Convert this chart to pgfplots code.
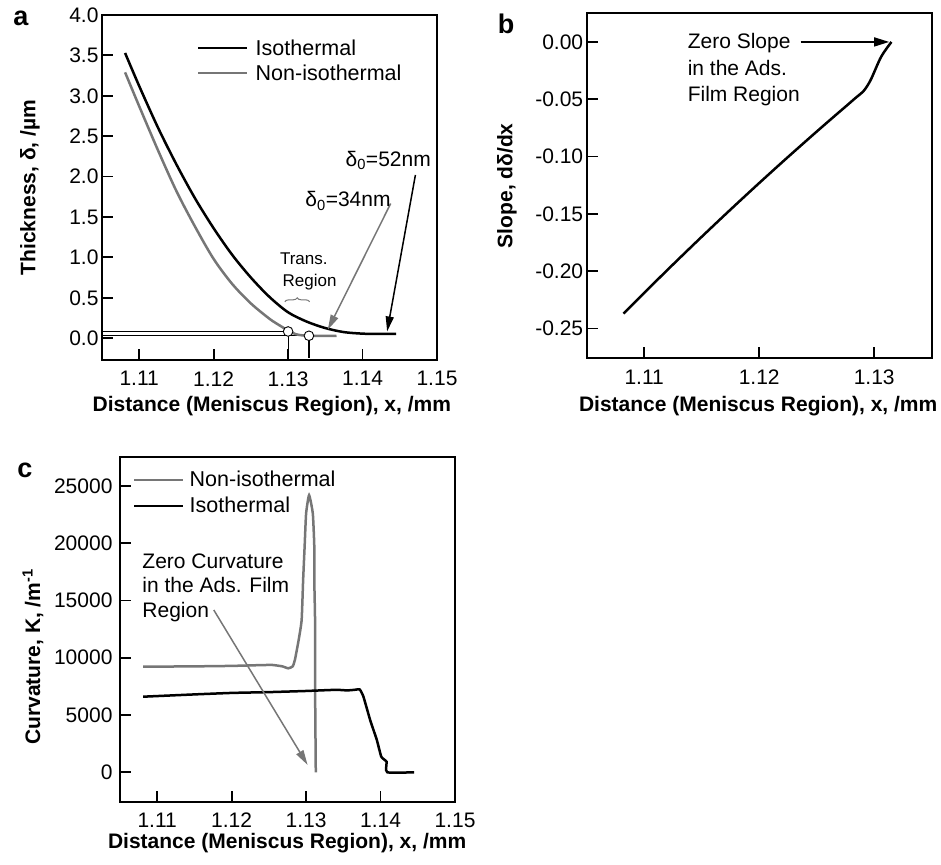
\documentclass[border=0pt]{standalone}
\usepackage{pgfplots}
\pgfplotsset{compat=1.18}
\usepackage{fontspec}
\setmainfont{Liberation Sans}
\usetikzlibrary{arrows.meta,decorations.pathreplacing}
\definecolor{cg}{RGB}{118,118,118}

\pgfplotsset{
  panel/.style={
    scale only axis, width=335pt, height=345pt,
    axis line style={line width=1.8pt},
    tick align=inside, tick pos=left,
    major tick length=11pt,
    tick style={line width=1.8pt, black},
    /pgf/number format/assume math mode=true,
    ticklabel style={font=\fontsize{21}{25}\selectfont},
    label style={font=\bfseries\fontsize{21}{25}\selectfont},
    scaled ticks=false,
    clip=false,
    xticklabel style={/pgf/number format/fixed,/pgf/number format/precision=2,/pgf/number format/fixed zerofill, yshift=-8pt},
    legend image code/.code={\draw[##1] (0pt,0pt) -- (49pt,0pt);},
  },
  every axis plot/.append style={line width=2.5pt},
}

\begin{document}
\begin{tikzpicture}
\useasboundingbox (0,0) rectangle (941pt,864pt);

% ---------------- panel a ----------------
\begin{axis}[panel, at={(102pt,504pt)}, anchor=south west,
  xmin=1.105, xmax=1.15, ymin=-0.27, ymax=4.0,
  xtick={1.11,1.12,1.13,1.14,1.15},
  ytick={0,0.5,1,1.5,2,2.5,3,3.5,4},
  yticklabel style={/pgf/number format/fixed,/pgf/number format/precision=1,/pgf/number format/fixed zerofill},
  xlabel={Distance (Meniscus Region), x, /mm},
  ylabel={Thickness, δ, /µm},
  xlabel style={at={(axis description cs:0.507,-0.135)}, anchor=center},
  ylabel style={at={(axis description cs:-0.215,0.5)}, anchor=center},
  legend style={at={(axis description cs:0.2836,0.935)}, anchor=north west, draw=none, fill=none, inner sep=0pt, row sep=4pt, column sep=5pt, font=\fontsize{21.5}{25}\selectfont, nodes={inner sep=2pt}, cells={anchor=west}},
]
% annotation lines of the transition region
\draw[line width=1.2pt] (axis cs:1.105,0.083) -- (axis cs:1.1300,0.083);
\draw[line width=1.2pt] (axis cs:1.105,0.03) -- (axis cs:1.1328,0.03);
\draw[line width=1.2pt] (axis cs:1.1300,0.083) -- (axis cs:1.1300,-0.25);
\draw[line width=1.2pt] (axis cs:1.1328,0.03) -- (axis cs:1.1328,-0.25);

\addplot[black, smooth, tension=0.5] coordinates {
(1.1081,3.53) (1.1100,3.12) (1.1125,2.61) (1.1150,2.15) (1.1175,1.73)
(1.1200,1.36) (1.1225,1.03) (1.1250,0.75) (1.1275,0.51) (1.1300,0.32)
(1.1325,0.205) (1.1350,0.125) (1.1375,0.075) (1.1400,0.056) (1.1420,0.052) (1.1445,0.052)};
\addlegendentry{Isothermal}
\addplot[cg, smooth, tension=0.5] coordinates {
(1.1081,3.29) (1.1100,2.87) (1.1125,2.33) (1.1150,1.82) (1.1175,1.38)
(1.1200,0.98) (1.1225,0.67) (1.1250,0.43) (1.1275,0.24) (1.1290,0.15)
(1.1300,0.095) (1.1310,0.05) (1.1320,0.034) (1.1330,0.03) (1.1365,0.03)};
\addlegendentry{Non-isothermal}

\addplot[forget plot, only marks, mark=*, mark size=4.8pt, mark options={fill=white, draw=black, line width=0.9pt}] coordinates {(1.1300,0.083) (1.1328,0.03)};

\draw[-{Triangle[length=15pt,width=8pt]}, line width=1.5pt] (axis cs:1.1471,2.02) -- (axis cs:1.1433,0.083);
\draw[cg, -{Triangle[length=15pt,width=8pt]}, line width=1.5pt] (axis cs:1.14378,1.667) -- (axis cs:1.13533,0.104);
\node[anchor=base west, font=\fontsize{21}{25}\selectfont, inner sep=0pt] at (axis cs:1.1377,2.13) {δ\textsubscript{0}=52nm};
\node[anchor=base west, font=\fontsize{21}{25}\selectfont, inner sep=0pt] at (axis cs:1.1323,1.625) {δ\textsubscript{0}=34nm};
\node[font=\fontsize{17}{20}\selectfont, inner sep=0pt] at (axis cs:1.13211,0.98) {Trans.};
\node[font=\fontsize{17}{20}\selectfont, inner sep=0pt] at (axis cs:1.13289,0.69) {Region};
\draw[cg, line width=1pt, decorate, decoration={brace, amplitude=4pt}] (axis cs:1.12956,0.45) -- (axis cs:1.13289,0.45);
\end{axis}

% ---------------- panel b ----------------
\begin{axis}[panel, width=345pt, at={(586.7pt,505.7pt)}, anchor=south west,
  xmin=1.105, xmax=1.135, ymin=-0.276, ymax=0.025,
  xtick={1.11,1.12,1.13},
  ytick={-0.25,-0.2,-0.15,-0.1,-0.05,0},
  yticklabel style={/pgf/number format/fixed,/pgf/number format/precision=2,/pgf/number format/fixed zerofill},
  xlabel={Distance (Meniscus Region), x, /mm},
  ylabel={Slope, dδ/dx},
  xlabel style={at={(axis description cs:0.497,-0.14)}, anchor=center},
  ylabel style={at={(axis description cs:-0.231,0.5)}, anchor=center},
]
\addplot[black, smooth, tension=0.5] coordinates {
(1.1082,-0.2370) (1.1100,-0.2189) (1.1125,-0.1942) (1.1150,-0.1700) (1.1175,-0.1463)
(1.1200,-0.1231) (1.1225,-0.1004) (1.1250,-0.0782) (1.1268,-0.0625) (1.1275,-0.0565)
(1.1283,-0.0495) (1.1291,-0.0425) (1.1297,-0.0330) (1.1306,-0.0130) (1.1315,0.0000)};
\draw[-{Triangle[length=15pt,width=9pt]}, line width=1.5pt] (axis cs:1.1236,0) -- (axis cs:1.1313,0);
\node[anchor=base west, font=\fontsize{21}{25}\selectfont, inner sep=0pt] at (axis cs:1.11377,-0.0058) {Zero Slope};
\node[anchor=base west, font=\fontsize{21}{25}\selectfont, inner sep=0pt] at (axis cs:1.11377,-0.0290) {in the Ads.};
\node[anchor=base west, font=\fontsize{21}{25}\selectfont, inner sep=0pt] at (axis cs:1.11377,-0.0522) {Film Region};
\end{axis}

% ---------------- panel c ----------------
\begin{axis}[panel, at={(120pt,62.3pt)}, anchor=south west,
  xmin=1.105, xmax=1.15, ymin=-2570, ymax=27560,
  xtick={1.11,1.12,1.13,1.14,1.15},
  ytick={0,5000,10000,15000,20000,25000},
  yticklabel style={/pgf/number format/fixed,/pgf/number format/1000 sep={}, xshift=-4pt},
  xlabel={Distance (Meniscus Region), x, /mm},
  ylabel={Curvature, K, /m\textsuperscript{-1}},
  xlabel style={at={(axis description cs:0.499,-0.12)}, anchor=center},
  ylabel style={at={(axis description cs:-0.26,0.42)}, anchor=center},
  legend style={at={(axis description cs:0.0388,0.964)}, anchor=north west, draw=none, fill=none, inner sep=0pt, row sep=5pt, column sep=3pt, font=\fontsize{21.5}{25}\selectfont, nodes={inner sep=2pt}, cells={anchor=west}},
]
\addplot[cg, smooth, tension=0.3] coordinates {
(1.1081,9220) (1.1150,9250) (1.1200,9290) (1.1240,9360) (1.1255,9370)
(1.1268,9250) (1.1276,9080) (1.1282,9250) (1.1285,9830) (1.1290,11560)
(1.1294,13300) (1.1296,16790) (1.1298,19700) (1.1300,22600) (1.1304,24200)
(1.1309,22600) (1.1311,19700) (1.1311,16790) (1.1312,13300) (1.1312,8000) (1.1313,0)};
\addlegendentry{Non-isothermal}
\addplot[black, smooth, tension=0.3] coordinates {
(1.1081,6600) (1.1150,6800) (1.1200,6930) (1.1250,7000) (1.1300,7100)
(1.1340,7200) (1.1355,7150) (1.1365,7200) (1.1372,7230) (1.1377,6600)
(1.1386,4570) (1.1395,2820) (1.1401,1360) (1.1408,925) (1.1409,0) (1.1445,0)};
\addlegendentry{Isothermal}
\draw[cg, -{Triangle[length=15pt,width=8pt]}, line width=1.5pt] (axis cs:1.1176,14170) -- (axis cs:1.1302,640);
\node[anchor=base west, font=\fontsize{21}{25}\selectfont, inner sep=0pt] at (axis cs:1.10799,17813) {Zero Curvature};
\node[anchor=base west, font=\fontsize{21}{25}\selectfont, inner sep=0pt] at (axis cs:1.10799,15717) {in the Ads. Film};
\node[anchor=base west, font=\fontsize{21}{25}\selectfont, inner sep=0pt] at (axis cs:1.10799,13509) {Region};
\end{axis}

\node[font=\bfseries\fontsize{27}{30}\selectfont] at (21pt,846pt) {a};
\node[font=\bfseries\fontsize{27}{30}\selectfont] at (506pt,840pt) {b};
\node[font=\bfseries\fontsize{27}{30}\selectfont] at (25pt,394pt) {c};
\end{tikzpicture}
\end{document}
